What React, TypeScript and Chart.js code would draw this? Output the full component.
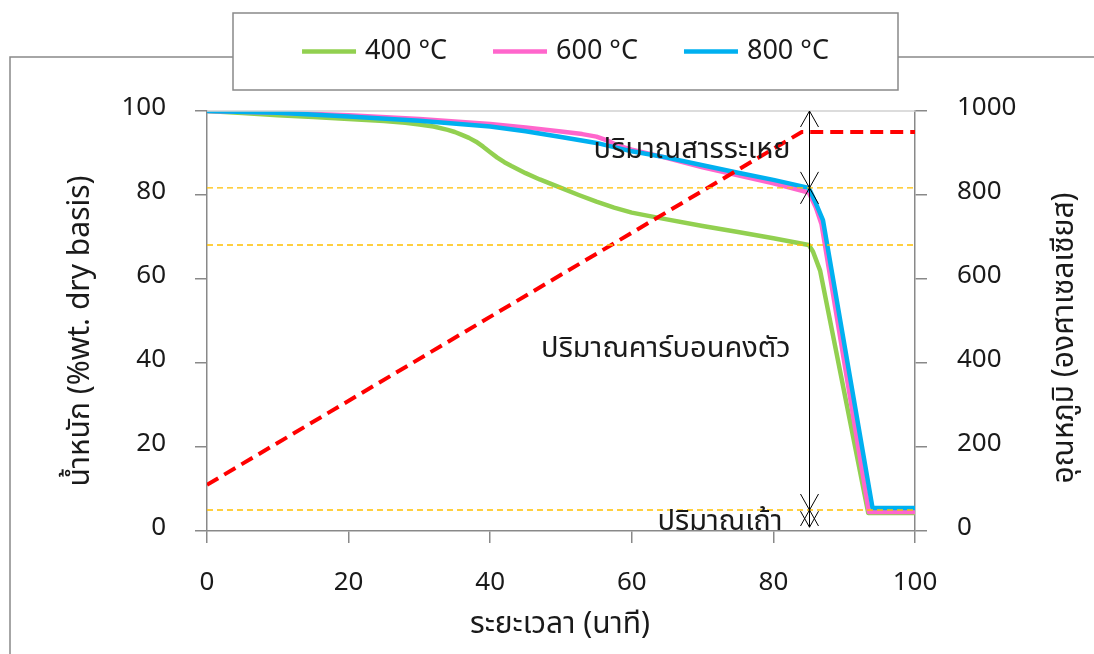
import React, { useEffect, useRef } from "react";
import { Chart, registerables } from "chart.js";

Chart.register(...registerables);

const FONT = "'Noto Sans', 'Noto Sans Thai', sans-serif";

// Weight loss curves: time (min) vs weight (% dry basis)
const time400 = [0, 5, 10, 15, 20, 25, 28, 30, 32, 34, 35, 36, 37, 38, 39, 40, 41, 42, 43, 45, 47, 50, 52.5, 55, 57.5, 60, 64, 70, 75, 80, 85, 85.6, 86.6, 93.4, 100];
const weight400 = [100, 99.5, 99.0, 98.6, 98.1, 97.6, 97.2, 96.8, 96.3, 95.5, 95.0, 94.3, 93.6, 92.7, 91.5, 90.2, 88.9, 87.8, 86.9, 85.2, 83.7, 81.7, 80.0, 78.4, 77.0, 75.8, 74.5, 72.6, 71.2, 69.7, 68.1, 66.5, 62.0, 4.3, 4.3];

const time600 = [0, 10, 20, 30, 40, 45, 50, 53, 55, 56.5, 58, 60, 65, 70, 75, 80, 85, 86, 86.8, 93.5, 100];
const weight600 = [100, 99.6, 99.0, 98.1, 96.9, 96.1, 95.1, 94.5, 93.9, 93.0, 91.8, 90.8, 88.8, 86.6, 84.7, 82.8, 80.6, 77.0, 73.0, 4.5, 4.5];

const time800 = [0, 10, 20, 30, 40, 45, 50, 55, 60, 65, 70, 75, 80, 85, 86, 87, 94, 100];
const weight800 = [100, 99.6, 98.7, 97.7, 96.3, 95.2, 93.8, 92.4, 90.4, 88.9, 87.1, 85.3, 83.6, 81.7, 78.0, 74.0, 5.5, 5.5];

// Furnace temperature programme (°C)
const tempTime = [0, 84, 100];
const tempValue = [110, 950, 950];

const seriesLabels = ["400 °C", "600 °C", "800 °C"];
const seriesColors = ["#92D050", "#FF66CC", "#00B0F0"];
const tempColor = "#FF0000";

// Proximate analysis markers
const referenceLevels = [81.7, 68.1, 5];
const markerTime = 85;
const arrowBounds = [100, 81.7, 5, 0.9];
const rangeLabels = ["ปริมาณสารระเหย", "ปริมาณคาร์บอนคงตัว", "ปริมาณเถ้า"];
const rangeLabelLevels = [90.85, 43.35, 2.3];

const xTitle = "ระยะเวลา (นาที)";
const yTitle = "น้ำหนัก (%wt. dry basis)";
const y1Title = "อุณหภูมิ (องศาเซลเซียส)";

const AXIS_GRAY = "#898989";
const TEXT = "#1a1a1a";
// gap between each range label and the arrow line, px
const LABEL_GAPS = [19, 19, 27];

function toPoints(xs: number[], ys: number[]) {
  return xs.map((x, i) => ({ x, y: ys[i] }));
}

function arrowHead(ctx: CanvasRenderingContext2D, x: number, tipY: number, dir: number) {
  // dir = -1 points up, +1 points down
  const len = 16;
  const half = 9;
  ctx.beginPath();
  ctx.moveTo(x - half, tipY - dir * len);
  ctx.lineTo(x, tipY);
  ctx.lineTo(x + half, tipY - dir * len);
  ctx.stroke();
}

const decorations = {
  id: "decorations",
  beforeDraw(chart: any) {
    const ctx = chart.ctx as CanvasRenderingContext2D;
    ctx.save();
    ctx.fillStyle = "#ffffff";
    ctx.fillRect(0, 0, chart.width, chart.height);
    // outer frame
    ctx.strokeStyle = AXIS_GRAY;
    ctx.lineWidth = 1.5;
    ctx.beginPath();
    ctx.moveTo(10, chart.height);
    ctx.lineTo(10, 57);
    ctx.lineTo(chart.width, 57);
    ctx.stroke();
    ctx.restore();
  },
  afterDatasetsDraw(chart: any) {
    const ctx = chart.ctx as CanvasRenderingContext2D;
    const xs = chart.scales.x;
    const ys = chart.scales.y;
    const area = chart.chartArea;
    ctx.save();
    // top border of the plot
    ctx.strokeStyle = "#D0D0D0";
    ctx.lineWidth = 1.5;
    ctx.beginPath();
    ctx.moveTo(area.left, area.top);
    ctx.lineTo(area.right, area.top);
    ctx.stroke();

    // reference levels
    ctx.strokeStyle = "#FFC000";
    ctx.lineWidth = 1.3;
    ctx.setLineDash([6, 4]);
    referenceLevels.forEach((v) => {
      const py = ys.getPixelForValue(v);
      ctx.beginPath();
      ctx.moveTo(area.left, py);
      ctx.lineTo(area.right, py);
      ctx.stroke();
    });
    ctx.setLineDash([]);

    // double-headed arrows at the marker time
    const ax = Math.round(xs.getPixelForValue(markerTime)) + 0.5;
    ctx.strokeStyle = "#000000";
    ctx.lineWidth = 1;
    ctx.beginPath();
    ctx.moveTo(ax, ys.getPixelForValue(arrowBounds[0]));
    ctx.lineTo(ax, ys.getPixelForValue(arrowBounds[arrowBounds.length - 1]));
    ctx.stroke();
    for (let i = 0; i < arrowBounds.length - 1; i++) {
      arrowHead(ctx, ax, ys.getPixelForValue(arrowBounds[i]), -1);
      arrowHead(ctx, ax, ys.getPixelForValue(arrowBounds[i + 1]), 1);
    }

    // range labels
    ctx.fillStyle = TEXT;
    ctx.font = `29px ${FONT}`;
    ctx.textAlign = "right";
    ctx.textBaseline = "middle";
    rangeLabels.forEach((t, i) => {
      ctx.fillText(t, ax - LABEL_GAPS[i], ys.getPixelForValue(rangeLabelLevels[i]));
    });
    ctx.restore();
  },
  afterDraw(chart: any) {
    const ctx = chart.ctx as CanvasRenderingContext2D;
    ctx.save();
    // legend box
    const bx = 233, by = 13, bw = 665, bh = 77;
    ctx.fillStyle = "#ffffff";
    ctx.fillRect(bx, by, bw, bh);
    ctx.strokeStyle = AXIS_GRAY;
    ctx.lineWidth = 1.5;
    ctx.strokeRect(bx, by, bw, bh);

    ctx.font = `27px ${FONT}`;
    ctx.textBaseline = "middle";
    ctx.textAlign = "left";
    const lineLen = 54, textGap = 9, itemGap = 46;
    const widths = seriesLabels.map((l) => lineLen + textGap + ctx.measureText(l).width);
    const total = widths.reduce((a, b) => a + b, 0) + itemGap * (widths.length - 1);
    let x = bx + bw / 2 - total / 2;
    const cy = by + bh / 2;
    seriesLabels.forEach((l, i) => {
      ctx.strokeStyle = seriesColors[i];
      ctx.lineWidth = 4.5;
      ctx.beginPath();
      ctx.moveTo(x, cy);
      ctx.lineTo(x + lineLen, cy);
      ctx.stroke();
      ctx.fillStyle = TEXT;
      ctx.fillText(l, x + lineLen + textGap, cy);
      x += widths[i] + itemGap;
    });

    // axis titles
    ctx.font = `30px ${FONT}`;
    ctx.textAlign = "center";
    ctx.fillText(xTitle, 560, 624);
    ctx.save();
    ctx.translate(80, 331);
    ctx.rotate(-Math.PI / 2);
    ctx.fillText(yTitle, 0, 0);
    ctx.restore();
    ctx.save();
    ctx.translate(1064, 338);
    ctx.rotate(-Math.PI / 2);
    ctx.fillText(y1Title, 0, 0);
    ctx.restore();
    ctx.restore();
  },
};

export default function App() {
  const canvasRef = useRef<HTMLCanvasElement | null>(null);

  useEffect(() => {
    document.body.style.margin = "0";
    const canvas = canvasRef.current;
    if (!canvas) return;

    const lineStyle = (i: number) => ({
      borderColor: seriesColors[i],
      backgroundColor: seriesColors[i],
      borderWidth: 4.5,
      pointRadius: 0,
      tension: 0,
      borderJoinStyle: "round" as const,
      yAxisID: "y",
      fill: false,
    });

    const tickFont = { family: FONT, size: 26 };
    const plain = (v: any) => String(v);
    const gridStyle = {
      drawOnChartArea: false,
      drawTicks: true,
      tickLength: 12,
      color: AXIS_GRAY,
      lineWidth: 1.5,
    };
    const borderStyle = { display: true, color: AXIS_GRAY, width: 1.5 };

    const chart = new Chart(canvas, {
      type: "line",
      data: {
        datasets: [
          {
            label: "Temperature",
            data: toPoints(tempTime, tempValue),
            borderColor: tempColor,
            backgroundColor: tempColor,
            borderWidth: 4,
            borderDash: [13, 7],
            pointRadius: 0,
            tension: 0,
            yAxisID: "y1",
            order: 0,
          },
          { label: seriesLabels[2], data: toPoints(time800, weight800), ...lineStyle(2), order: 1 },
          { label: seriesLabels[1], data: toPoints(time600, weight600), ...lineStyle(1), order: 2 },
          { label: seriesLabels[0], data: toPoints(time400, weight400), ...lineStyle(0), order: 3 },
        ],
      },
      options: {
        responsive: false,
        animation: false,
        devicePixelRatio: 1,
        layout: { padding: { top: 111, left: 0, right: 0, bottom: 0 } },
        plugins: { legend: { display: false }, tooltip: { enabled: false } },
        scales: {
          x: {
            type: "linear",
            min: 0,
            max: 100,
            ticks: { stepSize: 20, font: tickFont, color: TEXT, padding: 24, callback: plain },
            grid: gridStyle,
            border: borderStyle,
            afterFit: (s: any) => {
              s.height = 123;
            },
          },
          y: {
            position: "left",
            min: 0,
            max: 100,
            ticks: { stepSize: 20, font: tickFont, color: TEXT, padding: 29, labelOffset: -3, callback: plain },
            grid: gridStyle,
            border: borderStyle,
            afterFit: (s: any) => {
              s.width = 207;
            },
          },
          y1: {
            position: "right",
            min: 0,
            max: 1000,
            ticks: { stepSize: 200, font: tickFont, color: TEXT, padding: 30, labelOffset: -3, callback: plain },
            grid: gridStyle,
            border: borderStyle,
            afterFit: (s: any) => {
              s.width = 179;
            },
          },
        },
      },
      plugins: [decorations],
    });

    return () => chart.destroy();
  }, []);

  return (
    <div style={{ width: 1094, height: 654, position: "relative" }}>
      <canvas ref={canvasRef} width={1094} height={654} />
    </div>
  );
}
